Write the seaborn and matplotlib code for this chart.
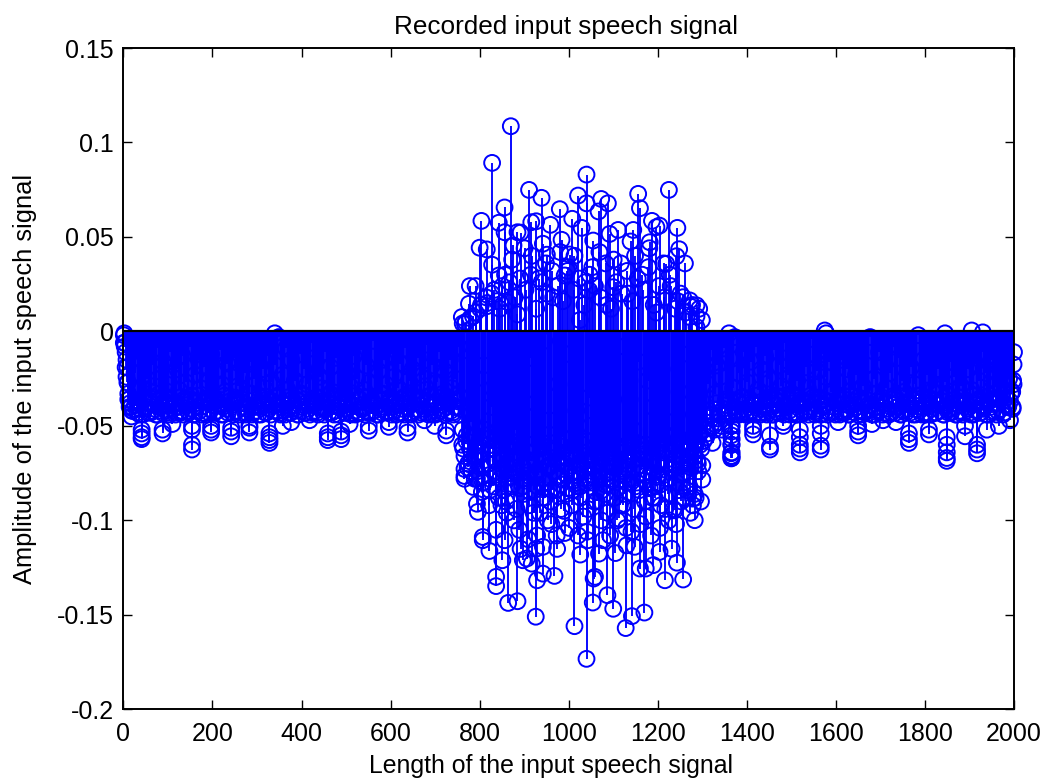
import numpy as np
import pandas as pd
import matplotlib
matplotlib.use("Agg")
import matplotlib.pyplot as plt
import seaborn as sns

# Dense body of the signal, in thousandths: one reading every 4 samples
# before the speech (samples 1 to 757)
quiet_a_milli = [
 -6,-19,-27,-36,-40,-42,-22,-14,-38,-44,-30,-12,-41,-25,-35,-43,-18,-29,-44,-9,-33,-42,-16,-37,-28,
 -43,-11,-24,-39,-44,-20,-31,-43,-13,-36,-27,-42,-8,-34,-44,-23,-40,-15,-30,-44,-19,-37,-26,-43,-12,
 -35,-43,-21,-39,-10,-28,-44,-32,-17,-41,-24,-43,-14,-36,-29,-44,-7,-38,-22,-43,-33,-16,-44,-25,-40,
 -11,-34,-44,-20,-30,-43,-13,-37,-27,-42,-18,-35,-3,-44,-23,-39,-9,-31,-43,-15,-41,-26,-36,-44,-12,
 -33,-20,-43,-28,-38,-6,-43,-17,-35,-44,-24,-30,-41,-11,-37,-43,-19,-32,-44,-14,-26,-40,-8,-34,-43,
 -22,-38,-29,-43,-13,-44,-25,-36,-10,-41,-31,-18,-43,-27,-39,-5,-35,-44,-21,-33,-43,-15,-28,-42,-37,
 -12,-40,-24,-44,-30,-17,-43,-35,-9,-38,-26,-44,-20,-32,-41,-14,-36,-43,-23,-29,-7,-44,-34,-18,-39,
 -44,-27,-11,-42,-33,-21,-43,-37,-15,-30,-44,-25,-40,-8,-35,
]
# during the speech (samples 761 to 1297)
speech_a_milli = [
 -60,-10,5,-72,-35,-48,8,-78,-25,-66,12,-85,-18,-55,15,-92,-40,-30,22,-105,-55,12,-92,-44,30,
 -96,-20,-75,38,-100,-52,9,-105,-33,-82,44,-68,-110,-14,40,-96,-38,-108,28,-60,-88,-5,36,-100,-47,
 -102,18,-74,-108,-28,42,-56,-95,-12,32,-104,-64,-84,40,-42,-108,6,-70,-98,26,-106,-35,-50,34,-90,
 -78,-22,42,-100,-58,-86,14,-45,-108,-30,38,-72,-100,-8,36,-92,-62,-104,20,-36,-106,-52,40,-80,-16,
 -102,30,-66,-98,-26,44,-108,-40,-88,10,-76,-104,-20,36,-94,-55,-100,24,-48,-70,-102,16,-32,-90,-60,
 36,-84,-12,-96,14,-44,-88,-68,12,-90,
]
# after the speech (samples 1301 to 1997)
quiet_b_milli = [
 -52,-20,-56,-28,-44,-10,-50,-33,-18,-48,-24,-52,-9,-36,-44,-14,-50,-30,-3,-44,-22,-42,-35,-11,-44,
 -27,-43,-16,-38,-44,-8,-31,-43,-20,-41,-13,-44,-25,-36,-44,-10,-34,-43,-18,-29,-43,-6,-39,-23,-44,
 -33,-14,-43,-26,-44,-11,-37,-43,-19,-30,-42,-4,-35,-44,-21,-28,-44,-12,-40,-24,-44,-16,-32,-43,-9,
 -38,-27,-44,-15,-34,-43,-20,-44,-7,-31,-41,-23,-44,-13,-36,-29,-43,-18,-39,-3,-44,-25,-33,-42,-11,
 -37,-44,-17,-30,-44,-22,-43,-8,-35,-40,-14,-44,-26,-32,-43,-10,-38,-19,-44,-28,-41,-2,-34,-44,-15,
 -44,-23,-36,-44,-12,-30,-43,-20,-39,-9,-44,-27,-33,-43,-16,-41,-24,-44,-6,-35,-29,-44,-13,-38,-20,
 -43,-31,-44,-17,-37,-26,-43,-11,-40,-22,-44,-34,-15,-42,-28,-44,-19,-36,-30,-43,-12,-39,-25,-33,-41,
]
# second dense pass, samples offset by 2
quiet_c_milli = [
 -8,-24,-33,-38,-42,-41,-39,-43,-37,-41,-44,-36,-40,-43,-38,-42,-35,-41,-44,-37,-40,-43,-34,-42,-39,
 -44,-36,-41,-38,-43,-40,-35,-42,-44,-37,-39,-43,-36,-41,-44,-38,-34,-42,-40,-43,-37,-44,-35,-41,-39,
 -43,-36,-42,-38,-44,-40,-34,-41,-43,-37,-39,-44,-35,-42,-38,-43,-36,-40,-44,-41,-37,-33,-43,-39,-42,
 -44,-35,-40,-38,-43,-36,-41,-44,-37,-39,-42,-34,-43,-40,-38,-44,-35,-41,-43,-36,-39,-42,-44,-37,-40,
 -34,-43,-38,-41,-44,-36,-39,-42,-43,-35,-40,-37,-44,-41,-38,-33,-43,-39,-42,-36,-44,-40,-35,-41,-43,
 -38,-37,-44,-39,-42,-34,-43,-36,-41,-40,-44,-35,-38,-43,-37,-42,-39,-44,-36,-41,-33,-40,-43,-38,-35,
 -44,-42,-37,-39,-43,-36,-41,-44,-34,-40,-38,-43,-35,-42,-37,-44,-39,-36,-41,-43,-38,-40,-34,-44,-42,
 -37,-43,-35,-39,-41,-44,-36,-38,-42,-43,-40,-34,-37,-44,-41,
]
speech_c_milli = [
 -62,4,-55,-70,7,-48,-66,10,-74,-58,14,-80,-52,18,-70,-84,20,-62,-76,16,-88,-68,24,-74,-90,
 -60,26,-82,-72,18,-94,-66,28,-78,-86,22,-70,-92,30,-64,-84,12,-76,-96,26,-68,-88,20,-72,-90,
 32,-62,-84,24,-78,-94,16,-70,-86,34,-66,-92,22,-74,-82,28,-88,-60,14,-80,-94,30,-68,-76,24,
 -90,-64,18,-84,-72,36,-96,-70,12,-78,-88,26,-62,-92,20,-74,-86,32,-66,-80,16,-94,-72,28,-84,
 -60,22,-90,-76,34,-68,-88,14,-82,-70,24,-92,-64,18,-78,-86,30,-72,-94,12,-66,-84,20,-76,-88,
 10,-70,-82,13,-64,-86,8,-74,-60,6,
]
quiet_d_milli = [
 -58,-48,-54,-42,-50,-44,-52,-38,-46,-43,-50,-41,-44,-39,-43,-36,-44,-40,-42,-37,-44,-35,-43,-41,-38,
 -44,-36,-42,-39,-43,-34,-41,-44,-37,-40,-43,-35,-42,-38,-44,-36,-39,-43,-41,-37,-44,-34,-40,-42,-38,
 -43,-35,-44,-39,-41,-36,-43,-37,-42,-44,-34,-40,-38,-43,-35,-41,-44,-36,-39,-42,-37,-43,-33,-40,-44,
 -38,-35,-42,-43,-36,-41,-39,-44,-34,-37,-43,-40,-35,-42,-44,-38,-36,-41,-43,-39,-33,-44,-37,-40,-42,
 -35,-43,-38,-41,-44,-36,-39,-34,-43,-40,-37,-44,-42,-35,-38,-41,-43,-36,-39,-44,-34,-42,-37,-40,-43,
 -38,-35,-44,-41,-36,-43,-39,-33,-42,-37,-44,-40,-34,-41,-43,-38,-36,-44,-39,-42,-35,-43,-37,-41,-40,
 -44,-34,-38,-42,-36,-43,-39,-41,-35,-44,-37,-40,-43,-33,-38,-42,-36,-41,-44,-39,-35,-40,-37,-32,-28,
]
# third pass over the speech only, samples 762 to 1298
speech_e_milli = [
 -52,-66,-58,-70,-62,-74,-55,-68,-78,-60,-72,-64,-80,-57,-70,-76,-62,-82,-68,-74,-59,-78,-65,-84,-71,
 -63,-77,-58,-81,-69,-75,-61,-83,-67,-72,-79,-64,-70,-85,-60,-76,-68,-82,-73,-62,-78,-66,-80,-71,-59,
 -84,-74,-63,-77,-69,-81,-61,-75,-67,-83,-72,-65,-79,-60,-76,-70,-82,-64,-73,-78,-58,-68,-80,-74,-62,
 -85,-71,-66,-77,-60,-81,-69,-75,-63,-79,-72,-67,-83,-61,-76,-70,-64,-80,-73,-58,-78,-68,-82,-62,-75,
 -71,-65,-79,-60,-74,-83,-67,-72,-63,-77,-69,-81,-59,-76,-70,-64,-78,-62,-73,-68,-80,-57,-71,-66,-75,
 -60,-69,-63,-72,-56,-66,-60,-70,-54,-62,
]
band_step = 4

# Individually readable outer circles
outer_x = [
 1,2,3,5,7,9,10,11,14,18,41,41,41,41,88,88,110,154,154,154,154,197,197,197,242,242,242,283,283,283,
 328,328,328,328,340,358,377,418,459,459,459,489,489,489,508,551,551,596,596,638,638,676,699,725,
 1366,1366,1366,1366,1366,1366,1366,1360,1414,1414,1414,1452,1452,1452,1482,1482,1519,1519,1519,1519,1519,
 1566,1566,1566,1566,1575,1578,1605,1650,1650,1650,1681,1706,1735,1764,1764,1764,1809,1809,1845,1849,1849,1849,1849,1849,
 1890,1890,1905,1917,1917,1917,1930,1939,1966,1991,1997,1998,1999,2000,1996,
]
outer_y = [
 -.002,-.001,-.006,-.011,-.015,-.019,-.027,-.036,-.040,-.045,-.057,-.056,-.054,-.052,-.054,-.052,-.049,-.0625,-.060,-.052,-.050,-.0535,-.052,-.050,-.0555,-.053,-.051,-.0535,-.051,-.050,
 -.059,-.0575,-.056,-.054,-.001,-.050,-.048,-.047,-.0575,-.056,-.054,-.057,-.055,-.053,-.049,-.0525,-.050,-.0505,-.048,-.0535,-.051,-.047,-.050,-.0525,
 -.067,-.066,-.064,-.060,-.057,-.053,-.050,-.001,-.0545,-.052,-.050,-.0625,-.061,-.055,-.050,-.048,-.064,-.062,-.060,-.056,-.052,
 -.0625,-.0605,-.054,-.050,.0005,-.001,-.048,-.055,-.053,-.050,-.049,-.047,-.048,-.059,-.057,-.054,-.0545,-.052,-.001,-.0685,-.067,-.064,-.060,-.056,
 -.0555,-.050,.0005,-.0645,-.0625,-.060,-.0005,-.052,-.050,-.047,-.040,-.026,-.0175,-.011,-.032,
]

# Large excursions of the spoken part, above the baseline
peak_x = [
 870,828,1040,911,1225,1156,1021,1073,1088,939,1040,1160,856,980,1067,804,843,1008,916,927,959,1187,1204,1197,1244,
 1111,1145,1029,856,885,892,1092,984,876,800,816,1248,1055,1139,1182,942,1002,951,1242,828,1219,843,991,778,791,
 776,817,760,762,1257,1272,1287,1272,1287,863,1046,1100,
]
peak_y = [
 .1086,.0892,.0830,.0749,.0749,.0728,.0719,.0701,.0678,.0707,.0678,.0652,.0656,.0647,.0635,.0585,.0575,.0596,.0578,.0583,.0564,.0585,.0560,.0552,.0548,
 .0537,.0537,.0548,.0525,.0525,.0523,.0516,.0485,.0455,.0443,.0434,.0435,.0481,.0476,.0472,.0464,.0407,.0406,.0398,.0353,.0358,.0296,.0296,.0240,.0240,
 .0146,.0134,.0076,.0042,.0181,.0164,.0138,.0076,.0023,.0155,.0217,.0234,
]

# Large excursions of the spoken part, below the baseline
trough_x = [
 1040,1013,1128,926,1142,1170,864,885,1054,1100,1087,837,837,929,968,1056,1059,1216,1257,942,851,897,906,917,1160,
 1173,1190,1243,822,807,807,1026,1068,1105,974,892,942,927,1148,1130,1231,1204,856,1077,1043,991,1283,1238,1112,1279,
 1279,1300,1300,1323,796,794,766,766,766,725,1365,1365,1365,1365,1365,1365,785,
]
trough_y = [
 -.1733,-.1560,-.1570,-.1510,-.1507,-.1488,-.1437,-.1428,-.1435,-.1468,-.1396,-.1348,-.1299,-.1317,-.1294,-.1308,-.1299,-.1317,-.1313,-.1282,-.1211,-.1211,-.1202,-.1229,-.1255,
 -.1255,-.1237,-.1224,-.1162,-.1088,-.1105,-.1181,-.1176,-.1173,-.1151,-.1151,-.1140,-.1150,-.1140,-.1132,-.1150,-.1167,-.1105,-.1105,-.1105,-.1067,-.0999,-.0947,-.0990,-.0920,
 -.0885,-.0784,-.0709,-.0590,-.0955,-.0912,-.0780,-.0765,-.0728,-.0550,-.0672,-.0660,-.0645,-.0600,-.0550,-.0500,-.0823,
]

title_text = "Recorded input speech signal"
x_label = "Length of the input speech signal"
y_label = "Amplitude of the input speech signal"
x_ticks = [0, 200, 400, 600, 800, 1000, 1200, 1400, 1600, 1800, 2000]
y_ticks = [-0.2, -0.15, -0.1, -0.05, 0, 0.05, 0.1, 0.15]
y_tick_labels = ["-0.2", "-0.15", "-0.1", "-0.05", "0", "0.05", "0.1", "0.15"]

band_a = np.array(quiet_a_milli + speech_a_milli + quiet_b_milli) / 1000
band_c = np.array(quiet_c_milli + speech_c_milli + quiet_d_milli) / 1000
band_e = np.array(speech_e_milli) / 1000
band_a_x = 1 + band_step * np.arange(len(band_a))
band_c_x = 3 + band_step * np.arange(len(band_c))
band_e_x = 762 + band_step * np.arange(len(band_e))
df = pd.DataFrame({
    "n": np.concatenate([band_a_x, band_c_x, band_e_x, outer_x, peak_x, trough_x]),
    "amp": np.concatenate([band_a, band_c, band_e, outer_y, peak_y, trough_y]),
})

sns.set_theme(style="white")
plt.rcParams["font.family"] = ["Liberation Sans", "DejaVu Sans"]

fig = plt.figure(figsize=(10.48, 7.81), dpi=100)
ax = fig.add_axes([123.4 / 1048, 1 - 709.3 / 781, 890.6 / 1048, 661.3 / 781])

blue = "#0000ff"
ax.vlines(df["n"], 0, df["amp"], color=blue, linewidth=1.35, zorder=2)
sns.scatterplot(data=df, x="n", y="amp", ax=ax, marker="o", s=130,
                facecolors="none", edgecolor=blue, linewidth=1.4, zorder=3,
                clip_on=False, legend=False)
ax.plot([1, 2000], [0, 0], color="black", linewidth=1.6, zorder=4)

ax.set_xlim(0, 2000)
ax.set_ylim(-0.2, 0.15)
ax.set_xticks(x_ticks)
ax.set_yticks(y_ticks)
ax.set_yticklabels(y_tick_labels)
ax.tick_params(direction="in", length=6.5, width=1.0, colors="black",
               labelsize=18, left=True, bottom=True, top=True, right=True)
ax.tick_params(axis="x", pad=9)
ax.tick_params(axis="y", pad=7)
for s in ax.spines.values():
    s.set_color("black")
    s.set_linewidth(1.4)
    s.set_zorder(5)
ax.set_title(title_text, fontsize=18.8, color="black", pad=10, x=0.4965)
ax.set_xlabel(x_label, fontsize=17.9, color="black", labelpad=6, x=0.4805)
ax.set_ylabel(y_label, fontsize=18.4, color="black", labelpad=14)
fig.savefig("out.png", dpi=100, facecolor="white")
